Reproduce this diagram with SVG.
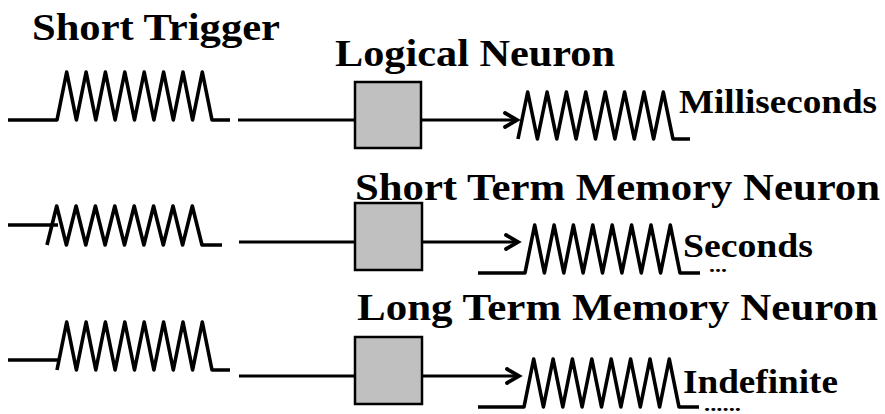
<svg xmlns="http://www.w3.org/2000/svg" width="885" height="414" viewBox="0 0 885 414">
<defs>
<style>
.w{fill:none;stroke:#000;stroke-width:3.6;stroke-linejoin:round;stroke-linecap:butt}
.c{fill:none;stroke:#000;stroke-width:3.2}
.a{fill:none;stroke:#000;stroke-width:3.8;stroke-linecap:round;stroke-linejoin:miter}
.box{fill:#c0c0c0;stroke:#000;stroke-width:2.5}
text{font-family:'Liberation Serif','Times New Roman',Times,'DejaVu Serif','Noto Serif',serif;font-weight:bold;fill:#000}
</style>
</defs>
<rect width="885" height="414" fill="#fff"/>
<g id="titles">
<text x="32" y="40" font-size="38" textLength="248" lengthAdjust="spacingAndGlyphs">Short Trigger</text>
<text x="335" y="66" font-size="38" textLength="280" lengthAdjust="spacingAndGlyphs">Logical Neuron</text>
<text x="355" y="200" font-size="38" textLength="525" lengthAdjust="spacingAndGlyphs">Short Term Memory Neuron</text>
<text x="357" y="320" font-size="38" textLength="521" lengthAdjust="spacingAndGlyphs">Long Term Memory Neuron</text>
</g>
<g id="input1">
<path class="w" d="M8,120 H57 L66.7,72 L76.4,120 L86.1,72 L95.8,120 L105.4,72 L115.1,120 L124.8,72 L134.5,120 L144.2,72 L153.9,120 L163.6,72 L173.3,120 L183,72 L192.6,120 L202.3,72 L212,120 H230"/>
</g>
<g id="input2">
<path class="w" d="M8,225 H58"/>
<path class="w" d="M47,245 L56.7,206 L66.4,245 L76.1,206 L85.8,245 L95.4,206 L105.1,245 L114.8,206 L124.5,245 L134.2,206 L143.9,245 L153.6,206 L163.3,245 L173,206 L182.6,245 L192.3,206 L202,245 H222"/>
</g>
<g id="input3">
<path class="w" d="M8,360 H59"/>
<path class="w" d="M57,370 L66.7,322 L76.4,370 L86.1,322 L95.8,370 L105.4,322 L115.1,370 L124.8,322 L134.5,370 L144.2,322 L153.9,370 L163.6,322 L173.3,370 L183,322 L192.6,370 L202.3,322 L212,370 H230"/>
</g>
<g id="neuron1"><rect class="box" x="355" y="82" width="66" height="66"/></g>
<g id="neuron2"><rect class="box" x="355" y="203" width="67" height="67"/></g>
<g id="neuron3"><rect class="box" x="355" y="337" width="67" height="67"/></g>
<g id="connectors">
<path class="c" d="M238,120 H355 M421,120 H516"/>
<path class="a" d="M505,113 L517,120 L505,127"/>
<path class="c" d="M239,242 H355 M422,242 H517"/>
<path class="a" d="M506,235 L518,242 L506,249"/>
<path class="c" d="M239,376 H355 M422,376 H518"/>
<path class="a" d="M507,369 L519,376 L507,383"/>
</g>
<g id="output1">
<path class="w" d="M518,139 L527.7,92 L537.4,139 L547.1,92 L556.8,139 L566.4,92 L576.1,139 L585.8,92 L595.5,139 L605.2,92 L614.9,139 L624.6,92 L634.3,139 L644,92 L653.6,139 L663.3,92 L673,139 H690"/>
<text x="679" y="113" font-size="33" textLength="198" lengthAdjust="spacingAndGlyphs">Milliseconds</text>
</g>
<g id="output2">
<path class="w" d="M478,273 H525 L534.7,225 L544.4,273 L554.1,225 L563.8,273 L573.4,225 L583.1,273 L592.8,225 L602.5,273 L612.2,225 L621.9,273 L631.6,225 L641.3,273 L651,225 L660.6,273 L670.3,225 L680,273 H700"/>
<text x="683" y="257" font-size="33" textLength="130" lengthAdjust="spacingAndGlyphs">Seconds</text>
<text x="709" y="272" font-size="18" textLength="18" lengthAdjust="spacingAndGlyphs">...</text>
</g>
<g id="output3">
<path class="w" d="M478,407 H524 L533.7,359 L543.4,407 L553.1,359 L562.8,407 L572.4,359 L582.1,407 L591.8,359 L601.5,407 L611.2,359 L620.9,407 L630.6,359 L640.3,407 L650,359 L659.6,407 L669.3,359 L679,407 H699"/>
<text x="683" y="393" font-size="33" textLength="155" lengthAdjust="spacingAndGlyphs">Indefinite</text>
<text x="704" y="411" font-size="18" textLength="37" lengthAdjust="spacingAndGlyphs">......</text>
</g>
</svg>
